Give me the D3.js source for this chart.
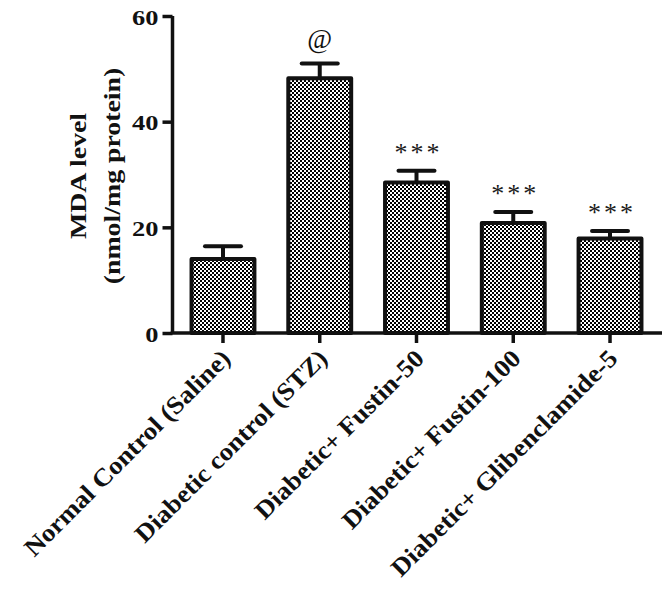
<!DOCTYPE html>
<html>
<head>
<meta charset="utf-8">
<script src="https://cdn.jsdelivr.net/npm/d3@7/dist/d3.min.js"></script>
<style>
  html, body { margin: 0; padding: 0; background: #fff; }
  svg { display: block; }
  text { font-family: "Liberation Serif", "Times New Roman", serif; }
</style>
</head>
<body>
<svg id="chart" width="669" height="596"></svg>
<script>
const categories = [
  "Normal Control (Saline)",
  "Diabetic control (STZ)",
  "Diabetic+ Fustin-50",
  "Diabetic+ Fustin-100",
  "Diabetic+ Glibenclamide-5"
];
const means = [14.0, 48.2, 28.5, 20.8, 17.9];
const sems = [2.4, 2.8, 2.2, 2.1, 1.4];
const marks = ["", "@", "***", "***", "***"];
const yTicks = [0, 20, 40, 60];
const yTitle = ["MDA level", "(nmol/mg protein)"];

const svg = d3.select("#chart");

const defs = svg.append("defs");
const pat = defs.append("pattern")
  .attr("id", "checker").attr("patternUnits", "userSpaceOnUse")
  .attr("width", 4).attr("height", 4);
pat.append("rect").attr("width", 4).attr("height", 4).attr("fill", "#fff");
pat.append("rect").attr("x", 0).attr("y", 0).attr("width", 2).attr("height", 2).attr("fill", "#000");
pat.append("rect").attr("x", 2).attr("y", 2).attr("width", 2).attr("height", 2).attr("fill", "#000");

const x = d3.scaleBand().domain(categories).range([174.6, 658.4])
  .paddingInner(0.35).paddingOuter(0.175);
const y = d3.scaleLinear().domain([0, 60]).range([333, 16]);
const axisX0 = 172.5;

// bars
svg.append("g").selectAll("rect").data(categories).join("rect")
  .attr("x", d => x(d))
  .attr("y", (d, i) => y(means[i]))
  .attr("width", x.bandwidth())
  .attr("height", (d, i) => y(0) - y(means[i]))
  .attr("fill", "url(#checker)")
  .attr("stroke", "#111").attr("stroke-width", 4).attr("stroke-linejoin", "round");

// error bars (upper only)
const eb = svg.append("g").attr("stroke", "#111").attr("stroke-width", 4);
categories.forEach((c, i) => {
  const cx = x(c) + x.bandwidth() / 2;
  eb.append("line").attr("x1", cx).attr("x2", cx)
    .attr("y1", y(means[i])).attr("y2", y(means[i] + sems[i]));
  eb.append("line").attr("x1", cx - 18).attr("x2", cx + 18)
    .attr("y1", y(means[i] + sems[i])).attr("y2", y(means[i] + sems[i]))
    .attr("stroke-linecap", "round");
});

// significance marks
categories.forEach((c, i) => {
  if (!marks[i]) return;
  const cx = x(c) + x.bandwidth() / 2;
  const top = y(means[i] + sems[i]);
  if (marks[i] === "@") {
    svg.append("text").attr("x", cx).attr("y", top - 16)
      .attr("text-anchor", "middle").attr("font-size", 27)
      .attr("fill", "#111").text(marks[i]);
  } else {
    svg.append("text").attr("x", cx + 2).attr("y", top - 10)
      .attr("text-anchor", "middle").attr("font-size", 26)
      .attr("letter-spacing", 3).attr("fill", "#1a1a1a").text(marks[i]);
  }
});

// y axis
const yAxis = svg.append("g").attr("transform", `translate(${axisX0},0)`)
  .call(d3.axisLeft(y).tickValues(yTicks).tickSize(10).tickPadding(4).tickFormat(d3.format("d")));
yAxis.select(".domain").attr("stroke", "#111").attr("stroke-width", 3.5)
  .attr("d", `M0,${y(60)}V${y(0)}`);
yAxis.selectAll(".tick line").attr("stroke", "#111").attr("stroke-width", 3.5);
yAxis.selectAll(".tick text").attr("font-size", 22).attr("font-weight", "bold")
  .attr("fill", "#111").attr("font-family", "Liberation Serif, serif")
  .attr("x", 0).attr("dy", null).attr("text-anchor", "end")
  .attr("transform", "translate(-14,8) scale(1.2,1)");

// x axis
const xAxis = svg.append("g").attr("transform", `translate(0,${y(0)})`)
  .call(d3.axisBottom(x).tickSize(10).tickFormat(""));
xAxis.select(".domain").attr("stroke", "#111").attr("stroke-width", 3.5)
  .attr("d", `M${axisX0 - 1.75},0H662`);
xAxis.selectAll(".tick line").attr("stroke", "#111").attr("stroke-width", 3.5);

// x labels
svg.append("g").selectAll("text").data(categories).join("text")
  .attr("transform", d => `translate(${x(d) + x.bandwidth() / 2 + 9},${y(0) + 27}) rotate(-45) scale(1.08,1)`)
  .attr("text-anchor", "end")
  .attr("font-size", 25).attr("font-weight", "bold").attr("fill", "#111")
  .text(d => d);

// y title
const yMid = 176;
yTitle.forEach((t, k) => {
  svg.append("text")
    .attr("transform", `translate(${k === 0 ? 86 : 120},${yMid}) rotate(-90) scale(1.16,1)`)
    .attr("text-anchor", "middle").attr("font-size", 24).attr("font-weight", "bold").attr("fill", "#111")
    .text(t);
});
</script>
</body>
</html>
